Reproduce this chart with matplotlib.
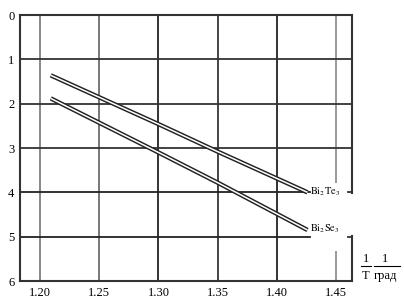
import matplotlib
matplotlib.use("Agg")
import matplotlib.pyplot as plt

plt.rcParams['font.family'] = ['Liberation Serif', 'DejaVu Serif']
plt.rcParams['mathtext.fontset'] = 'stix'

x_ticks = [1.20, 1.25, 1.30, 1.35, 1.40, 1.45]
x_tick_labels = ["1.20", "1.25", "1.30", "1.35", "1.40", "1.45"]
y_ticks = [0, 1, 2, 3, 4, 5, 6]
y_tick_labels = ["0", "1", "2", "3", "4", "5", "6"]

te_x = [1.209, 1.30, 1.35, 1.426]
te_y = [1.36, 2.46, 3.08, 4.0]
se_x = [1.209, 1.30, 1.35, 1.426]
se_y = [1.88, 3.10, 3.78, 4.85]
series_labels = [r"$\mathrm{Bi_2Te_3}$", r"$\mathrm{Bi_2Se_3}$"]

XMIN, XMAX = 1.183, 1.4636
fig = plt.figure(figsize=(4.04, 3.01), dpi=100)
ax = fig.add_axes([0.0495, 0.0664, 0.8218, 0.8836])
ax.set_xlim(XMIN, XMAX)
ax.set_ylim(6, 0)

# grid
vcolors = ['#888888', '#777777', '#333333', '#444444', '#333333']
for xv, c in zip(x_ticks[:-1], vcolors):
    ax.axvline(xv, color=c, lw=1.4, zorder=1)
# 1.45 line with a gap near the labels
ax.plot([1.45, 1.45], [0, 3.77], color='#999999', lw=1.4, zorder=1)
ax.plot([1.45, 1.45], [5.35, 6], color='#999999', lw=1.4, zorder=1)
for yv in [1, 2, 3]:
    ax.axhline(yv, color='#333333', lw=1.3, zorder=1)
for yv in [4, 5]:
    ax.plot([XMIN, 1.428], [yv, yv], color='#222222', lw=1.3, zorder=1)
    ax.plot([XMAX - 0.003, XMAX], [yv, yv], color='#333333', lw=1.3, zorder=1, clip_on=False)

# series (double lines)
for xs, ys in [(te_x, te_y), (se_x, se_y)]:
    ax.plot(xs, ys, color='#222222', lw=3.2, zorder=5, solid_capstyle='butt')
    ax.plot(xs, ys, color='white', lw=1.1, zorder=6, solid_capstyle='butt')

ax.text(1.4285, te_y[-1] - 0.02, series_labels[0], fontsize=7.5, va='center', ha='left', zorder=7)
ax.text(1.4285, se_y[-1] - 0.02, series_labels[1], fontsize=7.5, va='center', ha='left', zorder=7)

ax.set_xticks(x_ticks)
ax.set_xticklabels(x_tick_labels, fontsize=9)
ax.set_yticks(y_ticks)
ax.set_yticklabels(y_tick_labels, fontsize=9)
ax.tick_params(length=0, pad=4)
for name, s in ax.spines.items():
    s.set_color('#333333')
    s.set_linewidth(1.5)
    s.set_zorder(2)
ax.spines['right'].set_visible(False)
# right border with a gap between 4 and 5
ax.plot([XMAX, XMAX], [0, 4.02], color='#333333', lw=1.5, zorder=2, clip_on=False,
        solid_capstyle='projecting')
ax.plot([XMAX, XMAX], [4.98, 6], color='#333333', lw=1.5, zorder=2, clip_on=False,
        solid_capstyle='projecting')

# axis unit label: 1/T 1/град
fs = 9
fig.text(366/404, 1 - 259/301, "1", fontsize=fs, ha='center', va='center')
fig.text(366/404, 1 - 276/301, "T", fontsize=fs, ha='center', va='center')
fig.text(385/404, 1 - 259/301, "1", fontsize=fs, ha='center', va='center')
fig.text(386/404, 1 - 276/301, "град", fontsize=fs, ha='center', va='center')
fig.add_artist(plt.Line2D([361/404, 371/404], [1 - 266/301, 1 - 266/301], color='black', lw=0.8))
fig.add_artist(plt.Line2D([374/404, 400/404], [1 - 266/301, 1 - 266/301], color='black', lw=0.8))

fig.savefig("out.png", dpi=100)
